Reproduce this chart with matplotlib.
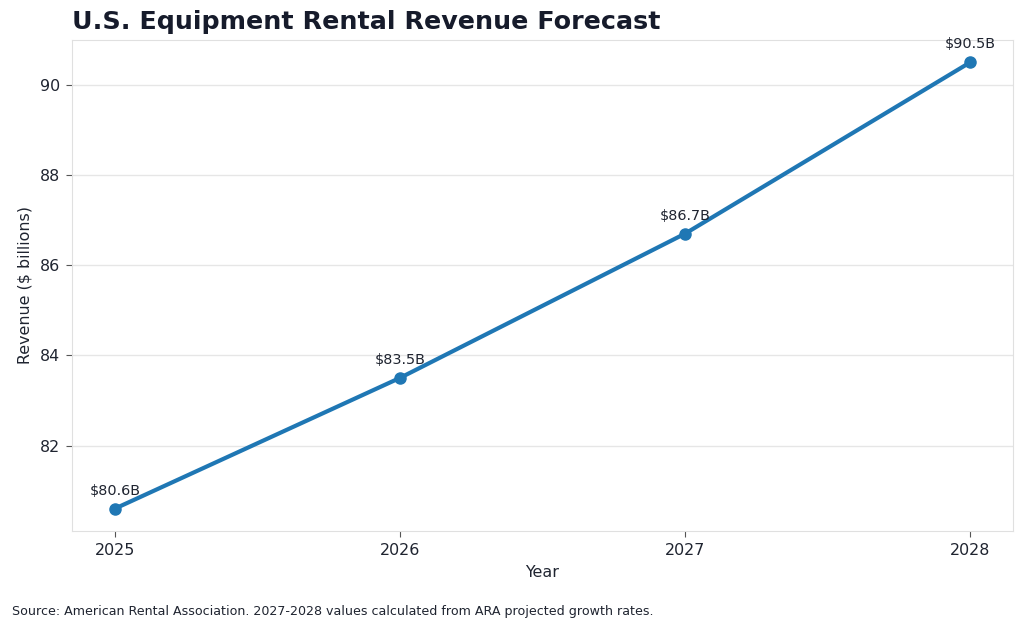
import matplotlib
matplotlib.use("Agg")
import matplotlib.pyplot as plt

years = [2025, 2026, 2027, 2028]
revenue = [80.6, 83.5, 86.7, 90.5]
labels = ["$80.6B", "$83.5B", "$86.7B", "$90.5B"]

plt.rcParams['font.family'] = ['DejaVu Sans']
text_color = "#1f2430"

fig = plt.figure(figsize=(10.24, 6.29), dpi=100)
ax = fig.add_axes([72/1024, 1-531/629, (1013-72)/1024, (531-40)/629])

ax.plot(years, revenue, color="#1f77b4", linewidth=3, marker="o", markersize=8, zorder=3)
for x, y, t in zip(years, revenue, labels):
    ax.annotate(t, (x, y), xytext=(0, 8), textcoords="offset points",
                ha="center", va="bottom", fontsize=10.4, color=text_color)

ax.set_xticks(years)
ax.set_xticklabels([str(y) for y in years])
ax.set_yticks([82, 84, 86, 88, 90])
ax.grid(axis="y", color="#e6e6e6", linewidth=1)
ax.set_axisbelow(True)
for s in ax.spines.values():
    s.set_color("#e0e0e0")
ax.tick_params(colors="#555555", labelcolor=text_color, labelsize=11.4, length=4, pad=4.5)
ax.set_xlabel("Year", fontsize=11.4, color=text_color, labelpad=5)
ax.set_ylabel("Revenue ($ billions)", fontsize=11.4, color=text_color, labelpad=5)

fig.text(72/1024, 1-22/629, "U.S. Equipment Rental Revenue Forecast", fontsize=18.3,
         fontweight="bold", color="#161b2b", ha="left", va="center")
fig.text(12/1024, 1-611/629,
         "Source: American Rental Association. 2027-2028 values calculated from ARA projected growth rates.",
         fontsize=9.13, color=text_color, ha="left", va="center")

fig.savefig("out.png", dpi=100)
